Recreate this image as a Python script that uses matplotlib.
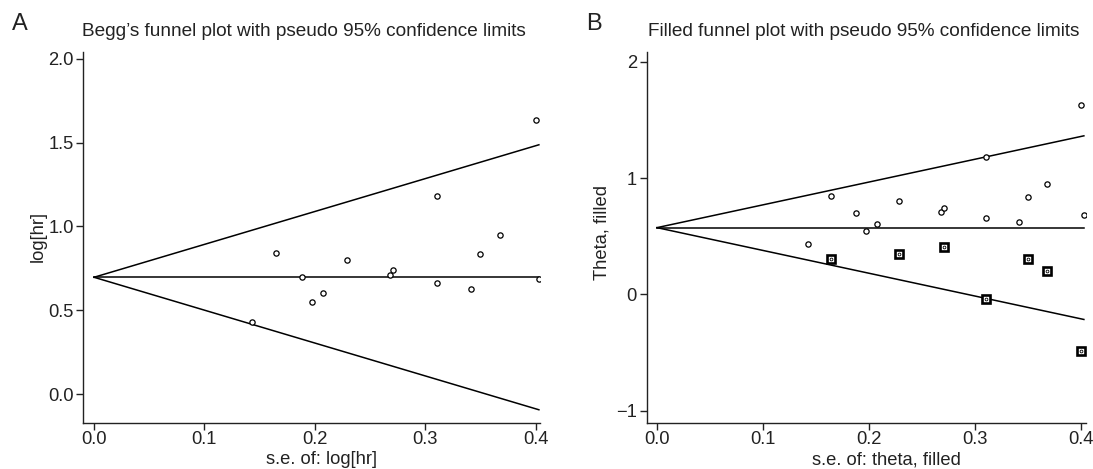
import matplotlib
matplotlib.use("Agg")
import matplotlib.pyplot as plt
import numpy as np

plt.rcParams['font.family'] = ['Liberation Sans', 'DejaVu Sans']

# ---- data ----
se = [0.143, 0.1645, 0.188, 0.1975, 0.2076, 0.2288, 0.2677, 0.271,
      0.311, 0.311, 0.3417, 0.350, 0.3678, 0.400, 0.403]
log_hr = [0.430, 0.844, 0.698, 0.547, 0.606, 0.802, 0.713, 0.742,
          1.182, 0.661, 0.626, 0.838, 0.947, 1.634, 0.687]
pooled_a = 0.697

filled_se = [0.1645, 0.2288, 0.271, 0.311, 0.350, 0.3678, 0.400]
filled_theta = [0.305, 0.347, 0.405, -0.035, 0.309, 0.199, -0.485]
pooled_b = 0.575

xticks = [0.0, 0.1, 0.2, 0.3, 0.4]
yticks_a = [0.0, 0.5, 1.0, 1.5, 2.0]
yticks_b = [-1, 0, 1, 2]

W, H = 1093, 469
fig = plt.figure(figsize=(W / 100, H / 100), dpi=100)

def px_axes(l, r, top, bottom):
    return fig.add_axes([l / W, 1 - bottom / H, (r - l) / W, (bottom - top) / H])

axA = px_axes(83.3, 540, 52, 422.7)
axB = px_axes(646.7, 1086, 52, 422.7)

FS = 13.2

def style(ax):
    for s in ['top', 'right']:
        ax.spines[s].set_visible(False)
    for s in ['left', 'bottom']:
        ax.spines[s].set_linewidth(1.0)
        ax.spines[s].set_color('#222222')
    ax.tick_params(direction='out', length=5, width=1.0, color='#222222',
                   labelsize=FS, pad=2, labelcolor='#222222')
    ax.tick_params(axis='x', pad=1)

def funnel(ax, center, maxse):
    xs = np.array([0.0, maxse])
    ax.plot(xs, center + 1.96 * xs, color='black', lw=1.1)
    ax.plot(xs, center - 1.96 * xs, color='black', lw=1.1)
    ax.plot(xs, [center, center], color='black', lw=1.1)

# ---- Panel A ----
style(axA)
funnel(axA, pooled_a, max(se))
axA.plot(se, log_hr, linestyle='none', marker='o', ms=3.8, mfc='white',
         mec='black', mew=0.9)
axA.set_xlim(-0.0097, 0.404)
axA.set_ylim(-0.170, 2.04)
axA.set_xticks(xticks)
axA.set_xticklabels(['0.0', '0.1', '0.2', '0.3', '0.4'])
axA.set_yticks(yticks_a)
axA.set_yticklabels(['0.0', '0.5', '1.0', '1.5', '2.0'])

# ---- Panel B ----
style(axB)
funnel(axB, pooled_b, max(se))
axB.plot(se, log_hr, linestyle='none', marker='o', ms=3.8, mfc='white',
         mec='black', mew=0.9)
axB.plot(filled_se, filled_theta, linestyle='none', marker='s', ms=5.2,
         mfc='white', mec='black', mew=1.9)
axB.plot(filled_se, filled_theta, linestyle='none', marker='o', ms=2.0,
         mfc='white', mec='black', mew=0.6)
axB.set_xlim(-0.0097, 0.405)
axB.set_ylim(-1.103, 2.086)
axB.set_xticks(xticks)
axB.set_xticklabels(['0.0', '0.1', '0.2', '0.3', '0.4'])
axB.set_yticks(yticks_b)
axB.set_yticklabels(['\u22121', '0', '1', '2'])

# ---- texts ----
txtc = '#222222'
fig.text(12 / W, 1 - 23.5 / H, 'A', fontsize=17, ha='left', va='center', color=txtc)
fig.text(586 / W, 1 - 23.5 / H, 'B', fontsize=17, ha='left', va='center', color=txtc)
fig.text(304 / W, 1 - 32 / H, "Begg\u2019s funnel plot with pseudo 95% confidence limits",
         fontsize=13.7, ha='center', va='center', color=txtc)
fig.text(863.5 / W, 1 - 32 / H, "Filled funnel plot with pseudo 95% confidence limits",
         fontsize=13.7, ha='center', va='center', color=txtc)
fig.text(322 / W, 1 - 459.5 / H, "s.e. of: log[hr]", fontsize=FS,
         ha='center', va='center', color=txtc)
fig.text(886 / W, 1 - 459.5 / H, "s.e. of: theta, filled", fontsize=FS,
         ha='center', va='center', color=txtc)
fig.text(38 / W, 1 - 237 / H, "log[hr]", fontsize=FS, rotation=90,
         ha='center', va='center', color=txtc)
fig.text(602 / W, 1 - 233 / H, "Theta, filled", fontsize=FS, rotation=90,
         ha='center', va='center', color=txtc)

fig.savefig('out.png', dpi=100)
